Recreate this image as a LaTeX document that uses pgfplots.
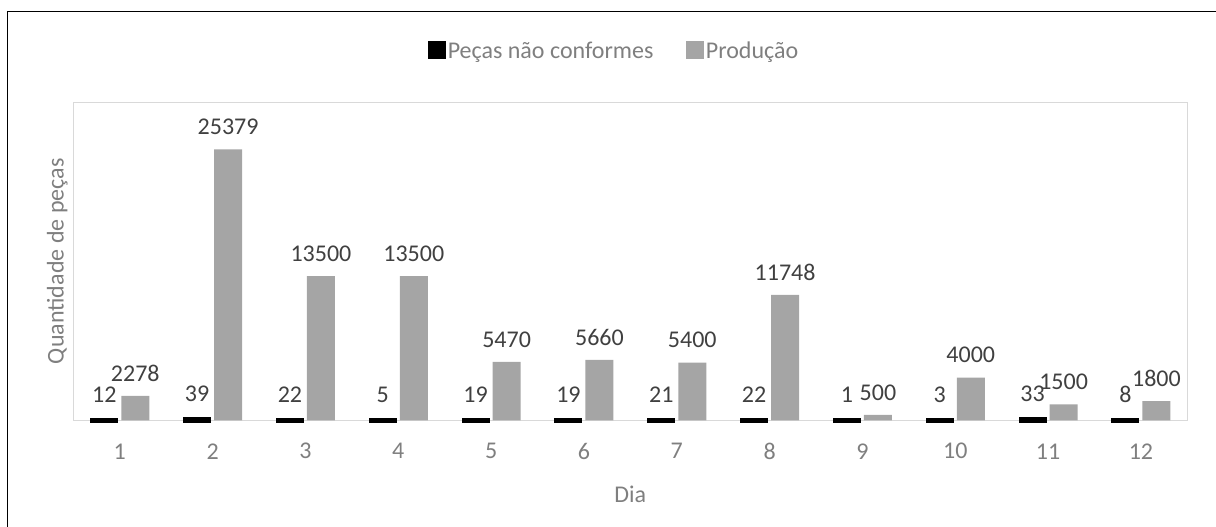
\documentclass[border=0pt]{standalone}
\usepackage{pgfplots}
\pgfplotsset{compat=1.18}
\usepackage{fontspec}
\setmainfont{Carlito}
\definecolor{barg}{HTML}{A5A5A5}
\definecolor{lbl}{HTML}{404040}
\definecolor{tck}{HTML}{7F7F7F}
\definecolor{frm}{HTML}{D9D9D9}
\begin{document}%
\begin{tikzpicture}[x=1pt,y=1pt,font=\fontsize{24}{28}\selectfont]
\useasboundingbox (0,0) rectangle (1216,527);
\draw[line width=1.8pt] (7.5,0) -- (7.5,515.5) -- (1216,515.5);
\begin{axis}[
  at={(79,100)}, anchor=south west, scale only axis,
  width=1114pt, height=318pt,
  xmin=0.5, xmax=12.5, ymin=0, ymax=29800,
  clip=false,
  axis line style={frm, line width=1.3pt},
  ytick=\empty,
  xtick={1,2,3,4,5,6,7,8,9,10,11,12},
  xticklabels={1,2,3,4,5,6,7,8,9,10,11,12},
  xtick style={draw=none},
  xticklabel style={tck, anchor=center, yshift=-31pt, font=\fontsize{24}{28}\selectfont},
  xlabel={Dia},
  xlabel style={at={(axis description cs:0.5,-0.232)}, anchor=center, tck, font=\fontsize{24}{28}\selectfont},
  ylabel={Quantidade de peças},
  ylabel style={at={(axis description cs:-0.01436,0.5)}, anchor=center, tck, font=\fontsize{24}{28}\selectfont},
  /pgf/number format/.cd, 1000 sep={}, assume math mode=true, /pgfplots/.cd,
  legend style={at={(0.4856,1.160)}, anchor=center, draw=none, fill=none,
    font=\fontsize{24}{28}\selectfont, text=tck,
    /tikz/every even column/.append style={column sep=31pt}},
  legend columns=2,
  legend cell align=left,
]
\addplot[ybar, bar width=23pt, bar shift=-15.5pt, fill=black, draw=black, line width=5pt,
  nodes near coords,
  every node near coord/.append style={lbl, anchor=south, inner sep=0pt, xshift=-15.5pt, yshift=15.5pt, font=\fontsize{24}{28}\selectfont},
  forget plot]
  coordinates {(1,12) (2,39) (3,22) (4,5) (5,19) (6,19) (7,21) (8,22) (9,1) (10,3) (11,33) (12,8)};
\addplot[ybar, bar width=28pt, bar shift=15.5pt, fill=barg, draw=none,
  nodes near coords,
  every node near coord/.append style={lbl, anchor=south, inner sep=0pt, xshift=15.5pt, yshift=14.5pt, font=\fontsize{24}{28}\selectfont},
  forget plot]
  coordinates {(1,2278) (2,25379) (3,13500) (4,13500) (5,5470) (6,5660) (7,5400) (8,11748) (9,500) (10,4000) (11,1500) (12,1800)};
\addlegendimage{legend image code/.code={\fill[black] (0pt,-6.5pt) rectangle (17pt,10.5pt);}}
\addlegendentry{Peças não conformes}
\addlegendimage{legend image code/.code={\fill[barg] (0pt,-6.5pt) rectangle (17pt,10.5pt);}}
\addlegendentry{Produção}
\end{axis}
\end{tikzpicture}%
\end{document}
